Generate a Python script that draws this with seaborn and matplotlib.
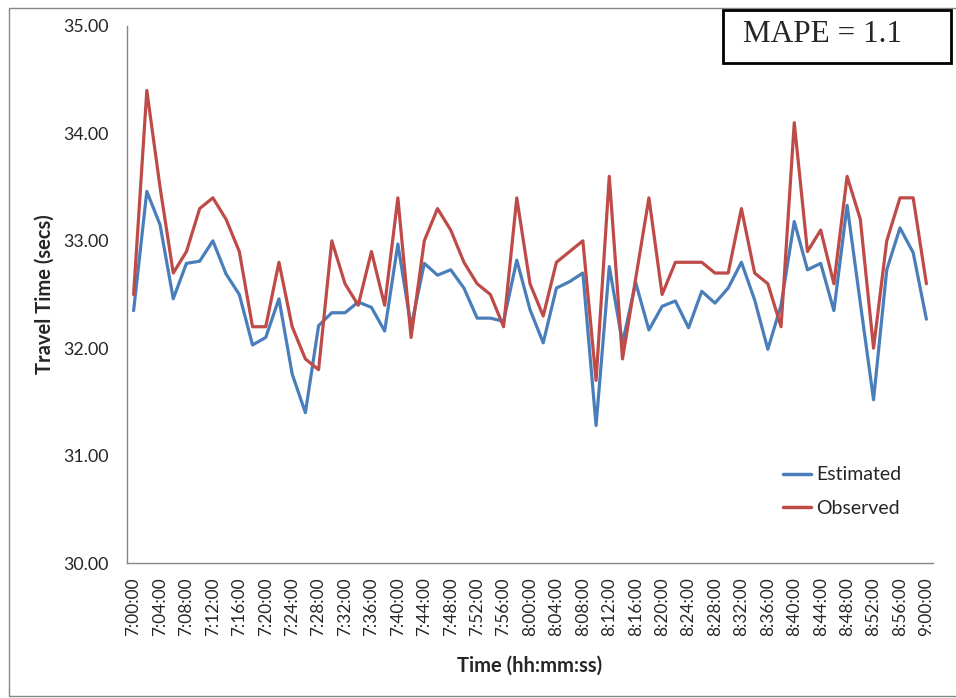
import pandas as pd
import numpy as np
import matplotlib
matplotlib.use("Agg")
import matplotlib.pyplot as plt
from matplotlib.patches import Rectangle
import seaborn as sns

# time stamps every 2 minutes, 7:00 to 9:00
times = ["%d:%02d:00" % (7 + m // 60, m % 60) for m in range(0, 121, 2)]

estimated = [32.35, 33.46, 33.15, 32.46, 32.79, 32.81, 33.00, 32.69, 32.50, 32.03,
             32.10, 32.46, 31.76, 31.40, 32.21, 32.33, 32.33, 32.43, 32.38, 32.16,
             32.97, 32.20, 32.79, 32.68, 32.73, 32.56, 32.28, 32.28, 32.25, 32.82,
             32.36, 32.05, 32.56, 32.62, 32.70, 31.28, 32.76, 32.05, 32.61, 32.17,
             32.39, 32.44, 32.19, 32.53, 32.42, 32.56, 32.80, 32.45, 31.99, 32.40,
             33.18, 32.73, 32.79, 32.35, 33.33, 32.42, 31.52, 32.73, 33.12, 32.89,
             32.27]
observed = [32.5, 34.4, 33.5, 32.7, 32.9, 33.3, 33.4, 33.2, 32.9, 32.2,
            32.2, 32.8, 32.2, 31.9, 31.8, 33.0, 32.6, 32.4, 32.9, 32.4,
            33.4, 32.1, 33.0, 33.3, 33.1, 32.8, 32.6, 32.5, 32.2, 33.4,
            32.6, 32.3, 32.8, 32.9, 33.0, 31.7, 33.6, 31.9, 32.65, 33.4,
            32.5, 32.8, 32.8, 32.8, 32.7, 32.7, 33.3, 32.7, 32.6, 32.2,
            34.1, 32.9, 33.1, 32.6, 33.6, 33.2, 32.0, 33.0, 33.4, 33.4,
            32.6]
y_ticks = [30, 31, 32, 33, 34, 35]

df = pd.DataFrame({"pos": list(range(len(times))) * 2,
                   "value": estimated + observed,
                   "series": ["Estimated"] * len(times) + ["Observed"] * len(times)})

sns.set_style("white")
plt.rcParams["font.family"] = ["Lato", "DejaVu Sans"]

fig = plt.figure(figsize=(9.56, 6.98), dpi=100)
W, H = 956, 698
ax = fig.add_axes([127 / W, 1 - 563 / H, (933 - 127) / W, (563 - 26) / H])

sns.lineplot(data=df, x="pos", y="value", hue="series",
             palette={"Estimated": "#4A7EBB", "Observed": "#BE4B48"},
             linewidth=2.3, ax=ax, legend=False)

ax.set_xlim(-0.5, len(times) - 0.5)
ax.set_ylim(30, 35)
ax.set_yticks(y_ticks)
ax.set_yticklabels(["%.2f" % v for v in y_ticks], fontsize=12.8)
ax.set_xticks(range(0, len(times), 2))
ax.set_xticklabels(times[::2], rotation=90, fontsize=12.4)
ax.tick_params(axis="y", length=5, width=1, color="#868686", pad=8)
ax.tick_params(axis="x", length=0, pad=10)

for s in ["top", "right"]:
    ax.spines[s].set_visible(False)
for s in ["left", "bottom"]:
    ax.spines[s].set_color("#868686")
    ax.spines[s].set_linewidth(1)

ax.set_xlabel("Time (hh:mm:ss)", fontsize=14.5, fontweight="bold")
ax.set_ylabel("Travel Time (secs)", fontsize=14.5, fontweight="bold")
ax.xaxis.set_label_coords(0.5, -0.172)
ax.yaxis.set_label_coords(-0.09, 0.5)

handles = [plt.Line2D([], [], color="#4A7EBB", lw=2.5),
           plt.Line2D([], [], color="#BE4B48", lw=2.5)]
ax.legend(handles, ["Estimated", "Observed"], frameon=False, fontsize=14,
          loc="upper left", bbox_to_anchor=(0.814, 0.18), borderpad=0,
          handlelength=1.45, handletextpad=0.25, labelspacing=0.85,
          borderaxespad=0)

# outer chart frame
fig.patches.append(Rectangle((9 / W, 1 - 696 / H), 960 / W, (696 - 8) / H,
                             transform=fig.transFigure, fill=False,
                             edgecolor="#868686", lw=1))
# MAPE box
fig.patches.append(Rectangle((723 / W, 1 - 63 / H), (951 - 723) / W, (63 - 10) / H,
                             transform=fig.transFigure, fill=False,
                             edgecolor="black", lw=2))
fig.text(743 / W, 1 - 34 / H, "MAPE = 1.1", fontsize=22.5,
         family="Liberation Serif", ha="left", va="center")

fig.savefig("out.png", dpi=100)
